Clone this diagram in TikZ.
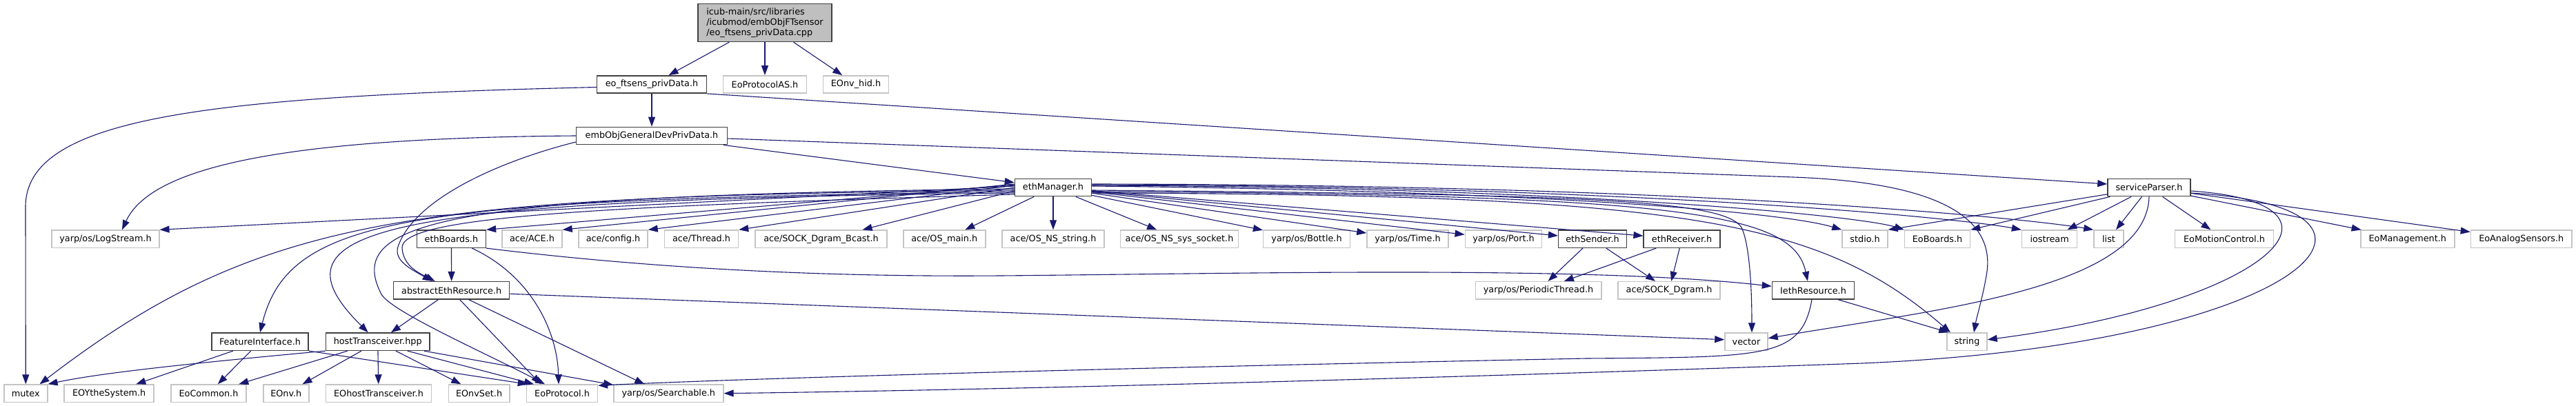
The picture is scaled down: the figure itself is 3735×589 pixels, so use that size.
\documentclass[tikz,border=0pt]{standalone}
\usepackage{fontspec}
\setmainfont{DejaVu Sans}
\usetikzlibrary{calc,arrows.meta}
\definecolor{edgec}{HTML}{191970}
\definecolor{docb}{HTML}{404040}
\definecolor{extb}{HTML}{C4C4C4}
\definecolor{rootf}{HTML}{BFBFBF}
\tikzset{
 nbase/.style={rectangle, inner sep=0pt, minimum height=25.3pt, fill=white, font=\fontsize{12.8pt}{15pt}\selectfont, text=black},
 doc/.style={nbase, draw=docb, line width=1.5pt},
 ext/.style={nbase, draw=extb, line width=1.5pt},
 rootn/.style={nbase, draw=docb, line width=1.5pt, fill=rootf, minimum height=55pt, align=left},
 edge/.style={draw=edgec, line width=1.1pt, -{Triangle[length=14pt,width=10pt]}},
}
\begin{document}
\begin{tikzpicture}[x=1pt,y=-1pt]
\fill[white] (0,0) rectangle (3735,589);
\useasboundingbox (0,0) rectangle (3735,589);
% nodes
\node[rootn, minimum width=194pt] (root) at (1109,33) {icub-main/src/libraries\\/icubmod/embObjFTsensor\\/eo\_ftsens\_privData.cpp};
\node[doc, minimum width=159pt] (eofts) at (945,122.5) {eo\_ftsens\_privData.h};
\node[ext, minimum width=121pt] (eoprotas) at (1109,122.5) {EoProtocolAS.h};
\node[ext, minimum width=95pt] (eonvhid) at (1241,122.5) {EOnv\_hid.h};
\node[doc, minimum width=219pt] (embobj) at (945,197) {embObjGeneralDevPrivData.h};
\node[doc, minimum width=111pt] (ethman) at (1527,272) {ethManager.h};
\node[doc, minimum width=120pt] (sp) at (3116,272) {serviceParser.h};
% row 3
\node[ext, minimum width=155.6pt] (logs) at (153,346.7) {yarp/os/LogStream.h};
\node[doc, minimum width=100pt] (ethb) at (654.4,346.7) {ethBoards.h};
\node[ext, minimum width=87pt] (ace) at (771.5,346.7) {ace/ACE.h};
\node[ext, minimum width=100pt] (cfg) at (889,346.7) {ace/config.h};
\node[ext, minimum width=107pt] (thr) at (1017,346.7) {ace/Thread.h};
\node[ext, minimum width=190.6pt] (bcast) at (1190.5,346.7) {ace/SOCK\_Dgram\_Bcast.h};
\node[ext, minimum width=119pt] (osmain) at (1369.3,346.7) {ace/OS\_main.h};
\node[ext, minimum width=148pt] (osstr) at (1527,346.7) {ace/OS\_NS\_string.h};
\node[ext, minimum width=171pt] (ossock) at (1710,346.7) {ace/OS\_NS\_sys\_socket.h};
\node[ext, minimum width=125.7pt] (bottle) at (1894.5,346.7) {yarp/os/Bottle.h};
\node[ext, minimum width=118pt] (time) at (2041,346.7) {yarp/os/Time.h};
\node[ext, minimum width=111.4pt] (port) at (2180,346.7) {yarp/os/Port.h};
\node[doc, minimum width=98.7pt] (sender) at (2309,346.7) {ethSender.h};
\node[doc, minimum width=110.8pt] (recv) at (2438.6,346.7) {ethReceiver.h};
\node[ext, minimum width=66pt] (stdio) at (2704,346.7) {stdio.h};
\node[ext, minimum width=95pt] (eob) at (2809,346.7) {EoBoards.h};
\node[ext, minimum width=80pt] (ios) at (2971.6,346.7) {iostream};
\node[ext, minimum width=43pt] (list) at (3057.5,346.7) {list};
\node[ext, minimum width=143pt] (eomc) at (3225,346.7) {EoMotionControl.h};
\node[ext, minimum width=136pt] (eomg) at (3490.8,346.7) {EoManagement.h};
\node[ext, minimum width=146.5pt] (eoas) at (3655.7,346.7) {EoAnalogSensors.h};
% row 4
\node[doc, minimum width=168pt] (aer) at (654.7,421.3) {abstractEthResource.h};
\node[ext, minimum width=182.5pt] (pt) at (2230.5,421.3) {yarp/os/PeriodicThread.h};
\node[ext, minimum width=148pt] (dgram) at (2420,421.3) {ace/SOCK\_Dgram.h};
\node[doc, minimum width=119pt] (ieth) at (2629,421.3) {IethResource.h};
% row 5
\node[doc, minimum width=140pt] (feat) at (377,495.7) {FeatureInterface.h};
\node[doc, minimum width=150.4pt] (ht) at (547.7,495.7) {hostTransceiver.hpp};
\node[ext, minimum width=62pt] (vec) at (2532,495.7) {vector};
\node[ext, minimum width=58pt] (str) at (2852,495.7) {string};
% row 6
\node[ext, minimum width=63pt] (mutex) at (37.3,570.7) {mutex};
\node[ext, minimum width=130pt] (eoy) at (158.2,570.7) {EOYtheSystem.h};
\node[ext, minimum width=109pt] (eocom) at (302.5,570.7) {EoCommon.h};
\node[ext, minimum width=66pt] (eonv) at (414.8,570.7) {EOnv.h};
\node[ext, minimum width=153pt] (eoht) at (549,570.7) {EOhostTransceiver.h};
\node[ext, minimum width=88.4pt] (eonvset) at (694.6,570.7) {EOnvSet.h};
\node[ext, minimum width=103pt] (eoprot) at (815,570.7) {EoProtocol.h};
\node[ext, minimum width=159pt] (srch) at (969.3,570.7) {yarp/os/Searchable.h};

% edges from root
\draw[edge] (root) -- (eofts);
\draw[edge] (root) -- (eoprotas);
\draw[edge] (root) -- (eonvhid);
% eo_ftsens_privData.h
\draw[edge] (eofts) -- (embobj);
\draw[edge] ($(eofts.west)+(0,4)$) .. controls (300,140) and (37,170) .. (37,300) -- (mutex.north);
\draw[edge] (eofts.south east) -- ($(sp.west)+(0,-5)$);
% embObjGeneralDevPrivData.h
\draw[edge] (embobj) -- (ethman);
\draw[edge] (embobj.west) .. controls (420,200) and (220,240) .. ($(logs.north)+(24,0)$);
\draw[edge] ($(embobj.west)+(0,9)$) .. controls (720,235) and (600,290) .. (577,358) .. controls (571,378) and (595,390) .. ($(aer.north)+(-28,0)$);
\draw[edge] ($(embobj.east)+(0,4)$) -- (2600,257) .. controls (2820,265) and (2895,320) .. (2880,400) .. controls (2875,430) and (2866,460) .. ($(str.north)+(10,0)$);
% ethManager.h left fan
\draw[edge] ($(ethman.west)+(0,-2)$) -- (logs.north east);
\draw[edge] ($(ethman.west)+(0,4)$) .. controls (600,285) and (380,310) .. ($(mutex.north east)+(-12,0)$);
\draw[edge] ($(ethman.west)+(0,6)$) .. controls (600,290) and (420,310) .. (feat.north);
\draw[edge] ($(ethman.west)+(0,8)$) .. controls (550,290) and (380,330) .. ($(ht.north)+(-14,0)$);
\draw[edge] ($(ethman.west)+(0,2)$) .. controls (650,283) and (500,320) .. (552,425) .. controls (562,450) and (700,510) .. ($(eoprot.north)+(-25,0)$);
\draw[edge] ($(ethman.west)+(0,10)$) .. controls (850,300) and (580,315) .. (583,360) .. controls (585,385) and (605,395) .. ($(aer.north)+(-24,0)$);
\draw[edge] ($(ethman.west)+(0,-4)$) -- (ethb.north east);
\draw[edge] ($(ethman.west)+(0,-5)$) -- (ace.north east);
\draw[edge] ($(ethman.west)+(0,-3)$) -- (cfg.north east);
\draw[edge] ($(ethman.west)+(0,0)$) -- (thr.north east);
\draw[edge] ($(ethman.west)+(0,5)$) -- ($(bcast.north)+(60,0)$);
\draw[edge] (ethman) -- ($(osmain.north)+(30,0)$);
\draw[edge] (ethman) -- (osstr);
\draw[edge] (ethman) -- (ossock);
% ethManager.h right fan
\draw[edge] (ethman) -- (bottle);
\draw[edge] (ethman) -- (time);
\draw[edge] (ethman) -- (port);
\draw[edge] (ethman) -- (sender);
\draw[edge] (ethman) -- (recv);
\draw[edge] ($(ethman.east)+(0,-2)$) .. controls (2200,276) and (2580,306) .. (stdio.north west);
\draw[edge] ($(ethman.east)+(0,-3)$) .. controls (2300,272) and (2700,314) .. (eob.north west);
\draw[edge] ($(ethman.east)+(0,-4)$) .. controls (2400,270) and (2850,318) .. (ios.north west);
\draw[edge] ($(ethman.east)+(0,-5)$) .. controls (2500,268) and (2960,320) .. (list.north west);
\draw[edge] ($(ethman.east)+(0,4)$) .. controls (2300,282) and (2500,290) .. (2525,330) .. controls (2537,355) and (2540,420) .. ($(vec.north)+(8,0)$);
\draw[edge] ($(ethman.east)+(0,6)$) .. controls (2450,282) and (2600,310) .. ($(ieth.north)+(-8,0)$);
\draw[edge] ($(ethman.east)+(0,8)$) .. controls (2450,282) and (2640,320) .. ($(str.north)+(-24,0)$);
% serviceParser.h
\draw[edge] (sp) -- (stdio.north east);
\draw[edge] (sp) -- (eob.north east);
\draw[edge] (sp) -- (ios);
\draw[edge] (sp) -- (list);
\draw[edge] (sp) -- (eomc);
\draw[edge] (sp) -- (eomg);
\draw[edge] (sp) -- (eoas);
\draw[edge] (sp.south) .. controls (3112,420) and (2800,450) .. ($(vec.east)+(0,-5)$);
\draw[edge] ($(sp.east)+(0,5)$) .. controls (3440,295) and (3290,440) .. ($(str.east)+(0,-3)$);
\draw[edge] ($(sp.east)+(0,8)$) .. controls (3540,300) and (3340,500) .. (2700,527) .. controls (2200,545) and (1500,565) .. (srch.east);
% ethBoards.h
\draw[edge] (ethb) -- (aer);
\draw[edge] ($(ethb.south)+(30,0)$) .. controls (770,400) and (808,480) .. ($(eoprot.north)+(-5,0)$);
\draw[edge] (ethb.south east) .. controls (950,390) and (1200,402) .. (1450,400) .. controls (1800,397) and (2300,385) .. ($(ieth.west)+(0,-6)$);
% abstractEthResource.h
\draw[edge] (aer) -- (ht);
\draw[edge] ($(aer.south)+(12,0)$) -- ($(eoprot.north)+(-31,0)$);
\draw[edge] ($(aer.south)+(25,0)$) -- ($(srch.north)+(-35,0)$);
\draw[edge] ($(aer.east)+(0,5)$) -- ($(vec.west)+(0,-3)$);
% FeatureInterface.h
\draw[edge] (feat) -- (eoy);
\draw[edge] (feat) -- (eocom);
\draw[edge] (feat.south east) -- ($(eoprot.north west)+(2,0)$);
% hostTransceiver.hpp
\draw[edge] (ht.south west) .. controls (300,525) and (150,540) .. (mutex.north east);
\draw[edge] (ht) -- (eocom);
\draw[edge] (ht) -- (eonv);
\draw[edge] (ht) -- (eoht);
\draw[edge] (ht) -- (eonvset);
\draw[edge] ($(ht.south)+(43,0)$) -- ($(eoprot.north)+(-41,0)$);
\draw[edge] ($(ht.south east)+(-9,0)$) -- ($(srch.north west)+(0,1)$);
% ethSender.h / ethReceiver.h
\draw[edge] (sender) -- (pt);
\draw[edge] (sender) -- (dgram);
\draw[edge] (recv) -- (pt);
\draw[edge] (recv) -- (dgram);
% IethResource.h
\draw[edge] ($(ieth.south)+(-2,0)$) .. controls (2612,520) and (2560,518) .. (2300,520) .. controls (1700,532) and (1100,548) .. ($(eoprot.north east)+(0,2)$);
\draw[edge] ($(ieth.south east)+(-24,0)$) -- ($(str.north west)+(3,0)$);
\end{tikzpicture}
\end{document}
